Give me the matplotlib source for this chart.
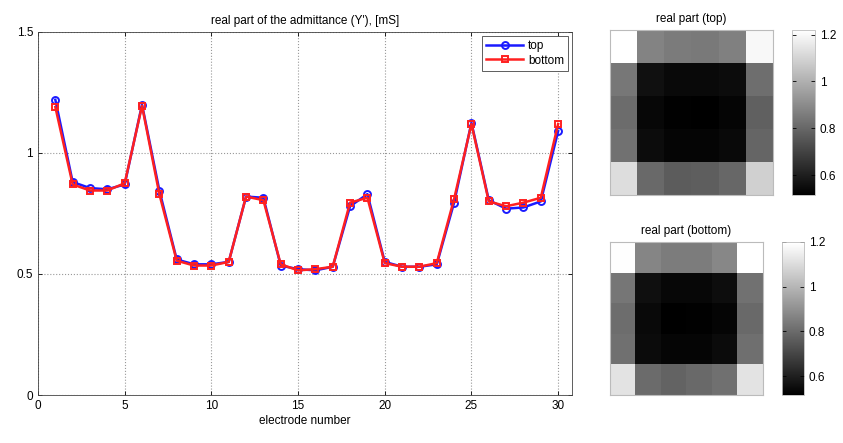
import numpy as np
import matplotlib.pyplot as plt

plt.rcParams['font.family'] = ['Liberation Sans', 'DejaVu Sans']
plt.rcParams['font.size'] = 8.5

electrodes = np.arange(1, 31)
top = [1.22, 0.88, 0.855, 0.85, 0.87, 1.20,
       0.845, 0.56, 0.54, 0.54, 0.55, 0.82,
       0.815, 0.535, 0.52, 0.515, 0.53, 0.78,
       0.83, 0.55, 0.53, 0.53, 0.54, 0.795,
       1.125, 0.805, 0.77, 0.775, 0.80, 1.09]
bottom = [1.19, 0.87, 0.845, 0.845, 0.875, 1.195,
          0.83, 0.555, 0.535, 0.535, 0.55, 0.82,
          0.805, 0.54, 0.515, 0.52, 0.53, 0.795,
          0.815, 0.545, 0.53, 0.53, 0.545, 0.81,
          1.12, 0.80, 0.78, 0.795, 0.815, 1.12]
n_rows, n_cols = 5, 6

W, H = 843, 443
fig = plt.figure(figsize=(W / 100, H / 100), dpi=100)


def px_axes(left, top_, right, bottom_):
    return fig.add_axes([left / W, 1 - bottom_ / H, (right - left) / W, (bottom_ - top_) / H])


def style(ax):
    ax.tick_params(direction='in', top=True, right=True, length=3, width=0.6)
    for s in ax.spines.values():
        s.set_linewidth(0.6)
        s.set_color('#444444')


# line plot
ax = px_axes(38, 32, 572, 395)
ax.plot(electrodes, top, '-o', color='#1a1aff', lw=1.8, ms=5, mfc='none', mew=1.4, label='top')
ax.plot(electrodes, bottom, '-s', color='#ff2020', lw=1.8, ms=4.5, mfc='none', mew=1.4, label='bottom')
ax.set_xlim(0, 30.8)
ax.set_ylim(0, 1.5)
ax.set_xticks([0, 5, 10, 15, 20, 25, 30])
ax.set_yticks([0, 0.5, 1, 1.5])
ax.set_yticklabels(['0', '0.5', '1', '1.5'])
ax.grid(True, linestyle=':', color='#999999', lw=0.8)
ax.set_title("real part of the admittance (Y'), [mS]", fontsize=8.5, pad=6)
ax.set_xlabel('electrode number', labelpad=2)
style(ax)
leg = ax.legend(loc='upper right', fancybox=False, edgecolor='#444444', framealpha=1,
                handlelength=3.2, borderpad=0.35, labelspacing=0.25, borderaxespad=0.3,
                handletextpad=0.4)
leg.get_frame().set_linewidth(0.6)

# heatmaps
for data, title, box, cbox in [
        (top, 'real part (top)', (610, 30, 773, 195), (792, 30, 815, 195)),
        (bottom, 'real part (bottom)', (610, 242, 763, 395), (782, 242, 804, 395))]:
    hax = px_axes(*box)
    grid = np.array(data).reshape(n_rows, n_cols)
    im = hax.imshow(grid, cmap='gray', aspect='auto', interpolation='nearest')
    hax.set_xticks([])
    hax.set_yticks([])
    for s in hax.spines.values():
        s.set_color('#bbbbbb')
        s.set_linewidth(0.8)
    hax.set_title(title, fontsize=8.5, pad=6)
    cax = px_axes(*cbox)
    cb = fig.colorbar(im, cax=cax)
    cb.set_ticks([0.6, 0.8, 1.0, 1.2])
    cb.set_ticklabels(['0.6', '0.8', '1', '1.2'])
    cax.tick_params(direction='in', length=3, width=0.6, left=True, right=True)
    cb.outline.set_linewidth(0.6)
    cb.outline.set_edgecolor('#bbbbbb')

fig.savefig('out.png', dpi=100)
